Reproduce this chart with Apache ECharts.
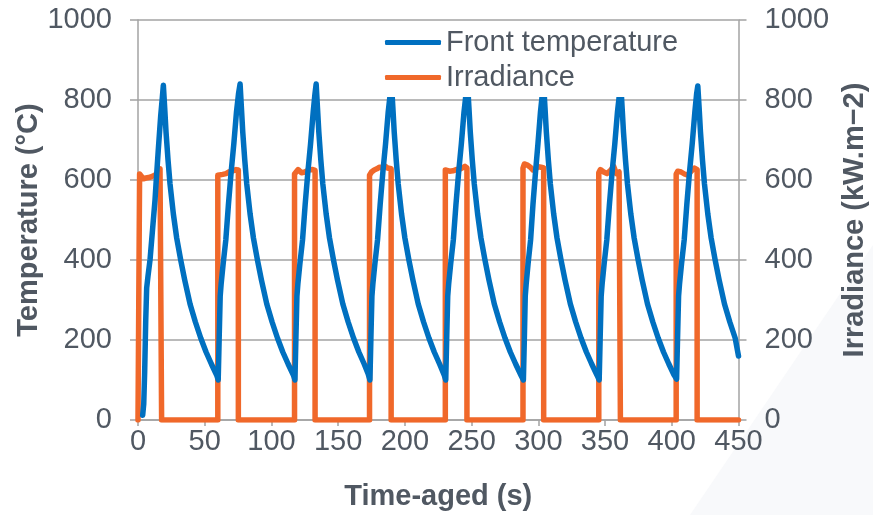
<!DOCTYPE html>
<html>
<head>
<meta charset="utf-8">
<script src="https://cdn.jsdelivr.net/npm/echarts@6/dist/echarts.min.js"></script>
<style>
  html, body { margin: 0; padding: 0; background: #ffffff; }
  #chart { width: 873px; height: 515px; }
</style>
</head>
<body>
<div id="chart"></div>
<script>
// Axis ticks
const timeTicks = { min: 0, max: 450, step: 50 };
const tempTicks = { min: 0, max: 1000, step: 200 };
const irrTicks = { min: 0, max: 1000, step: 200 };

// Front surface temperature (°C) against time-aged (s)
const frontTemperature = [
  [3.5, 12], [4.3, 40], [5, 120], [5.8, 250], [6.5, 330], [7.5, 360], [9, 400], [11, 480], [12.75, 550], [13.5, 590], [15.2, 675], [17, 760], [18.2, 805], [19, 837],
  [20, 780], [21, 720], [22.5, 650], [24, 590], [26.5, 515], [29, 455], [32, 400], [35, 350], [39, 290], [43, 245], [47, 205], [51, 170], [55, 140], [59, 112],
  [60.1, 100], [60.8, 200], [61.6, 310], [62.3, 340], [63.8, 390], [65.8, 450], [67.8, 540], [69.8, 620], [71.8, 690], [73.8, 770], [75.3, 815], [76.5, 840],
  [77.5, 780], [78.5, 720], [80, 650], [81.5, 590], [84, 515], [86.5, 455], [89.5, 400], [92.5, 350], [96.5, 290], [100.5, 245], [104.5, 205], [108.5, 170], [112.5, 140], [116.5, 112],
  [117.6, 100], [118.3, 200], [119.1, 310], [119.8, 340], [121.3, 390], [123.3, 450], [125.3, 540], [127.3, 620], [129.3, 690], [131.3, 770], [132.6, 815], [133.5, 840],
  [134.5, 780], [135.5, 720], [137, 650], [138.5, 590], [141, 515], [143.5, 455], [146.5, 400], [149.5, 350], [153.5, 290], [157.5, 245], [161.5, 205], [165.5, 170], [169.5, 140], [172.5, 115],
  [173.8, 100], [174.5, 200], [175.3, 310], [176, 340], [177.5, 390], [179.5, 450], [181.5, 540], [183.5, 620], [185.5, 690], [187.5, 770], [189, 815], [190, 838],
  [191, 780], [192, 720], [193.5, 650], [195, 590], [197.5, 515], [200, 455], [203, 400], [206, 350], [210, 290], [214, 245], [218, 205], [222, 170], [226, 140], [229.5, 112],
  [230.6, 100], [231.3, 200], [232.1, 310], [232.8, 340], [234.3, 390], [236.3, 450], [238.3, 540], [240.3, 620], [242.3, 690], [244.3, 770], [245.8, 815], [247, 838],
  [248, 780], [249, 720], [250.5, 650], [252, 590], [254.5, 515], [257, 455], [260, 400], [263, 350], [267, 290], [271, 245], [275, 205], [279, 170], [283, 140], [287, 112],
  [288.8, 100], [289.5, 200], [290.2, 310], [290.9, 340], [292.3, 390], [294.2, 450], [296, 540], [297.9, 620], [299.7, 690], [301.6, 770], [303, 815], [304, 838],
  [305, 780], [306, 720], [307.5, 650], [309, 590], [311.5, 515], [314, 455], [317, 400], [320, 350], [324, 290], [328, 245], [332, 205], [336, 170], [340, 140], [344, 112],
  [345.6, 100], [346.3, 200], [347.1, 310], [347.8, 340], [349.3, 390], [351.3, 450], [353.3, 540], [355.3, 620], [357.3, 690], [359.3, 770], [360.8, 815], [361.8, 838],
  [362.8, 780], [363.8, 720], [365.3, 650], [366.8, 590], [369.3, 515], [371.8, 455], [374.8, 400], [377.8, 350], [381.8, 290], [385.8, 245], [389.8, 205], [393.8, 170], [397.8, 140], [401.8, 112],
  [403.6, 102], [404.3, 200], [405.1, 310], [405.8, 340], [407.3, 390], [409.3, 450], [411.3, 540], [413.3, 620], [415.3, 690], [417.3, 770], [418.6, 815], [419.5, 835],
  [420.5, 780], [421.5, 720], [423, 650], [424.5, 590], [427, 515], [429.5, 455], [432.5, 400], [435.5, 350], [439.5, 290], [443.5, 245], [447.5, 205], [450, 160]
];

// Irradiance (kW.m−2) against time-aged (s)
const irradiance = [
  [0, 0], [1.2, 0], [1.2, 615], [2.5, 620], [4, 603], [6, 605], [9, 607], [12.5, 612], [15, 618], [16.5, 628], [17.7, 625], [17.7, 0],
  [59.8, 0], [59.8, 612], [61, 617], [63.5, 614], [66, 616], [68.5, 621], [71, 623], [73.5, 626], [75.2, 625], [75.2, 0],
  [117.3, 0], [117.3, 615], [118.5, 620], [120, 626], [122.5, 618], [125, 620], [128, 625], [131, 626], [132.7, 624], [132.7, 0],
  [173.5, 0], [173.5, 612], [175, 620], [177, 625], [179, 628], [181, 632], [183, 630], [185, 635], [187, 630], [189.7, 628], [189.7, 0],
  [230.3, 0], [230.3, 625], [231.5, 629], [233.5, 622], [236, 623], [238.5, 626], [241, 627], [243.5, 631], [245, 634], [246.5, 630], [246.5, 0],
  [288.5, 0], [288.5, 630], [289.5, 640], [291.5, 638], [294, 632], [296, 625], [298, 628], [300, 633], [302, 632], [304, 630], [304, 0],
  [345.3, 0], [345.3, 618], [346.5, 626], [349, 620], [351.5, 616], [354, 624], [356.5, 634], [358.5, 616], [360.5, 620], [361.5, 620], [361.5, 0],
  [403.3, 0], [403.3, 615], [404.5, 622], [407, 620], [409.5, 615], [412, 612], [414.5, 622], [417, 630], [419, 626], [419, 0],
  [450, 0]
];

const FONT = '"Liberation Sans", Arial, Helvetica, sans-serif';
const TEXT = '#505862';
const AXIS = '#a3a3a3';
const BLUE = '#0070c0';
const ORANGE = '#f0682a';
const FS = 29;

const plainNumber = (v) => String(v);

const chart = echarts.init(document.getElementById('chart'), null, { renderer: 'canvas' });

chart.setOption({
  backgroundColor: '#ffffff',
  animation: false,
  textStyle: { fontFamily: FONT },
  graphic: [
    {
      type: 'polygon',
      z: -10,
      silent: true,
      shape: { points: [[690, 515], [873, 245], [873, 515]] },
      style: { fill: '#f8f9fb' }
    }
  ],
  grid: { left: 138, right: 134.5, top: 20, bottom: 95, outerBoundsMode: 'none', containLabel: false },
  legend: {
    orient: 'vertical',
    left: 375,
    top: 23,
    padding: [4, 10, 4, 10],
    backgroundColor: '#ffffff',
    icon: 'roundRect',
    itemWidth: 56,
    itemHeight: 5,
    itemGap: 4,
    textStyle: { fontFamily: FONT, fontSize: FS, color: TEXT, lineHeight: 31 },
    data: ['Front temperature', 'Irradiance']
  },
  xAxis: {
    type: 'value',
    min: timeTicks.min,
    max: timeTicks.max,
    interval: timeTicks.step,
    name: 'Time-aged (s)',
    nameLocation: 'middle',
    nameGap: 62,
    nameTextStyle: { fontFamily: FONT, fontSize: FS, fontWeight: 'bold', color: TEXT },
    axisLine: { show: true, lineStyle: { color: AXIS, width: 1.5 } },
    axisTick: { show: true, length: 6, lineStyle: { color: AXIS, width: 1.5 } },
    axisLabel: { fontFamily: FONT, fontSize: FS, color: TEXT, margin: 7, formatter: plainNumber },
    splitLine: { show: false }
  },
  yAxis: [
    {
      type: 'value',
      min: tempTicks.min,
      max: tempTicks.max,
      interval: tempTicks.step,
      position: 'left',
      name: 'Temperature (°C)',
      nameLocation: 'middle',
      nameRotate: 90,
      nameGap: 95,
      nameMoveOverlap: false,
      nameTextStyle: { fontFamily: FONT, fontSize: FS, fontWeight: 'bold', color: TEXT },
      axisLine: { show: true, lineStyle: { color: AXIS, width: 1.5 } },
      axisTick: { show: true, length: 8, lineStyle: { color: AXIS, width: 1.5 } },
      axisLabel: { fontFamily: FONT, fontSize: FS, color: TEXT, margin: 26, formatter: plainNumber },
      splitLine: { show: true, lineStyle: { color: AXIS, width: 1.5 } }
    },
    {
      type: 'value',
      min: irrTicks.min,
      max: irrTicks.max,
      interval: irrTicks.step,
      position: 'right',
      name: 'Irradiance (kW.m−2)',
      nameLocation: 'middle',
      nameRotate: 90,
      nameGap: 102,
      nameMoveOverlap: false,
      nameTextStyle: { fontFamily: FONT, fontSize: FS, fontWeight: 'bold', color: TEXT },
      axisLine: { show: true, lineStyle: { color: AXIS, width: 1.5 } },
      axisTick: { show: true, length: 8, lineStyle: { color: AXIS, width: 1.5 } },
      axisLabel: { fontFamily: FONT, fontSize: FS, color: TEXT, margin: 26, formatter: plainNumber },
      splitLine: { show: false }
    }
  ],
  series: [
    {
      name: 'Irradiance',
      type: 'line',
      yAxisIndex: 1,
      data: irradiance,
      showSymbol: false,
      symbol: 'none',
      color: ORANGE,
      z: 2,
      lineStyle: { color: ORANGE, width: 5.5, cap: 'round', join: 'round' }
    },
    {
      name: 'Front temperature',
      type: 'line',
      yAxisIndex: 0,
      data: frontTemperature,
      showSymbol: false,
      symbol: 'none',
      color: BLUE,
      z: 3,
      lineStyle: { color: BLUE, width: 5.5, cap: 'round', join: 'round' }
    }
  ]
});
</script>
</body>
</html>
